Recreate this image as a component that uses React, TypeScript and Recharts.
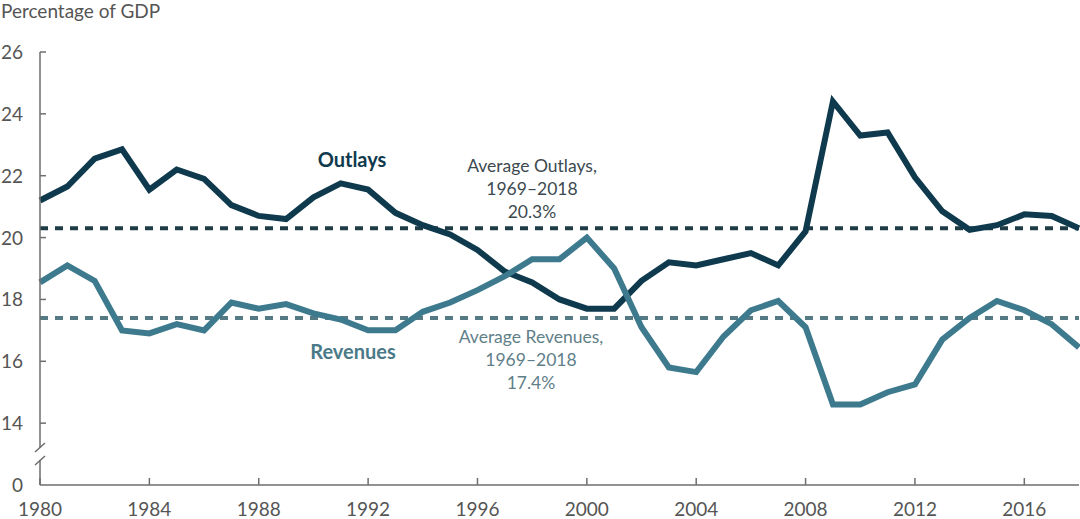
import React from "react";
import { LineChart, Line, XAxis, YAxis, ReferenceLine } from "recharts";

// Federal outlays and revenues, percentage of GDP
const years = [
  1980, 1981, 1982, 1983, 1984, 1985, 1986, 1987, 1988, 1989,
  1990, 1991, 1992, 1993, 1994, 1995, 1996, 1997, 1998, 1999,
  2000, 2001, 2002, 2003, 2004, 2005, 2006, 2007, 2008, 2009,
  2010, 2011, 2012, 2013, 2014, 2015, 2016, 2017, 2018,
];
const outlays = [
  21.2, 21.65, 22.55, 22.85, 21.55, 22.2, 21.9, 21.05, 20.7, 20.6,
  21.3, 21.75, 21.55, 20.8, 20.4, 20.1, 19.6, 18.9, 18.55, 18.0,
  17.7, 17.7, 18.6, 19.2, 19.1, 19.3, 19.5, 19.1, 20.2, 24.4,
  23.3, 23.4, 21.95, 20.85, 20.25, 20.4, 20.75, 20.7, 20.3,
];
const revenues = [
  18.55, 19.1, 18.6, 17.0, 16.9, 17.2, 17.0, 17.9, 17.7, 17.85,
  17.55, 17.35, 17.0, 17.0, 17.6, 17.9, 18.3, 18.75, 19.3, 19.3,
  20.0, 19.0, 17.1, 15.8, 15.65, 16.8, 17.65, 17.95, 17.1, 14.6,
  14.6, 15.0, 15.25, 16.7, 17.4, 17.95, 17.65, 17.2, 16.45,
];
const avgOutlays = 20.3;
const avgRevenues = 17.4;

const xTicks = [1980, 1984, 1988, 1992, 1996, 2000, 2004, 2008, 2012, 2016];
// the axis is broken below 14: the bottom tick stands for 0
const yTicks = [12, 14, 16, 18, 20, 22, 24, 26];
const yTickLabels = ["0", "14", "16", "18", "20", "22", "24", "26"];

const FONT = "Lato, 'Open Sans', sans-serif";
const AXIS = "#6e6e6e";
const TICK_TEXT = "#555";
const OUTLAYS = "#0f3a4d";
const REVENUES = "#3e7a8e";

const data = years.map((year, i) => ({
  year,
  outlays: outlays[i],
  revenues: revenues[i],
}));

const XTick = ({ x, y, payload }: any) => (
  <g>
    <line x1={x} x2={x} y1={y} y2={y - 7} stroke={AXIS} strokeWidth={1.5} />
    <text x={x} y={y + 31} textAnchor="middle" fontSize={19} fill={TICK_TEXT} fontFamily={FONT}>
      {payload.value}
    </text>
  </g>
);

const YTick = ({ x, y, payload }: any) => {
  const v = payload.value;
  const label = yTickLabels[yTicks.indexOf(v)];
  return (
    <g>
      {v !== yTicks[0] && (
        <line x1={x} x2={x + 6} y1={y} y2={y} stroke={AXIS} strokeWidth={1.5} />
      )}
      <text x={x - 17} y={y + 7} textAnchor="end" fontSize={19} fill={TICK_TEXT} fontFamily={FONT}>
        {label}
      </text>
      {v === yTicks[0] && (
        <g>
          <rect x={x - 3} y={y - 37} width={6} height={12} fill="#fff" />
          <line x1={x - 5} y1={y - 33} x2={x + 5} y2={y - 42} stroke={AXIS} strokeWidth={1.5} />
          <line x1={x - 5} y1={y - 20} x2={x + 5} y2={y - 29} stroke={AXIS} strokeWidth={1.5} />
        </g>
      )}
    </g>
  );
};

export default function App() {
  return (
    <div style={{ position: "absolute", left: 0, top: 0, width: 1080, height: 519, fontFamily: FONT }}>
      <LineChart width={1080} height={519} data={data} margin={{ top: 52, right: 1, bottom: 0, left: 0 }}>
        <XAxis
          dataKey="year"
          type="number"
          domain={[1980, 2018]}
          ticks={xTicks}
          tick={<XTick />}
          tickLine={false}
          tickSize={0}
          tickMargin={0}
          height={34}
          axisLine={{ stroke: AXIS, strokeWidth: 1.5 }}
          interval={0}
        />
        <YAxis
          type="number"
          domain={[12, 26]}
          ticks={yTicks}
          tick={<YTick />}
          tickLine={false}
          tickSize={0}
          tickMargin={0}
          width={40}
          axisLine={{ stroke: AXIS, strokeWidth: 1.5 }}
          interval={0}
        />
        <ReferenceLine y={avgOutlays} stroke="#1f3c46" strokeWidth={4} strokeDasharray="8 7" />
        <ReferenceLine y={avgRevenues} stroke="#557a84" strokeWidth={4} strokeDasharray="8 7" />
        <Line
          type="linear"
          dataKey="outlays"
          stroke={OUTLAYS}
          strokeWidth={6}
          dot={false}
          isAnimationActive={false}
        />
        <Line
          type="linear"
          dataKey="revenues"
          stroke={REVENUES}
          strokeWidth={6}
          dot={false}
          isAnimationActive={false}
        />
      </LineChart>
      <svg
        width={1080}
        height={519}
        style={{ position: "absolute", left: 0, top: 0, pointerEvents: "none" }}
        fontFamily={FONT}
      >
        <text x={1} y={18} fontSize={19} fill={TICK_TEXT}>Percentage of GDP</text>
        <text x={352} y={167} fontSize={20} fontWeight={700} fill={OUTLAYS} textAnchor="middle">Outlays</text>
        <text x={353} y={359} fontSize={20} fontWeight={700} fill="#4a7a88" textAnchor="middle">Revenues</text>
        <g fontSize={17.5} fill="#3c4a50" textAnchor="middle">
          <text x={532} y={172}>Average Outlays,</text>
          <text x={532} y={195}>1969–2018</text>
          <text x={532} y={218}>20.3%</text>
        </g>
        <g fontSize={17.5} fill="#5f8089" textAnchor="middle">
          <text x={531} y={343}>Average Revenues,</text>
          <text x={531} y={366}>1969–2018</text>
          <text x={531} y={389}>17.4%</text>
        </g>
      </svg>
    </div>
  );
}
